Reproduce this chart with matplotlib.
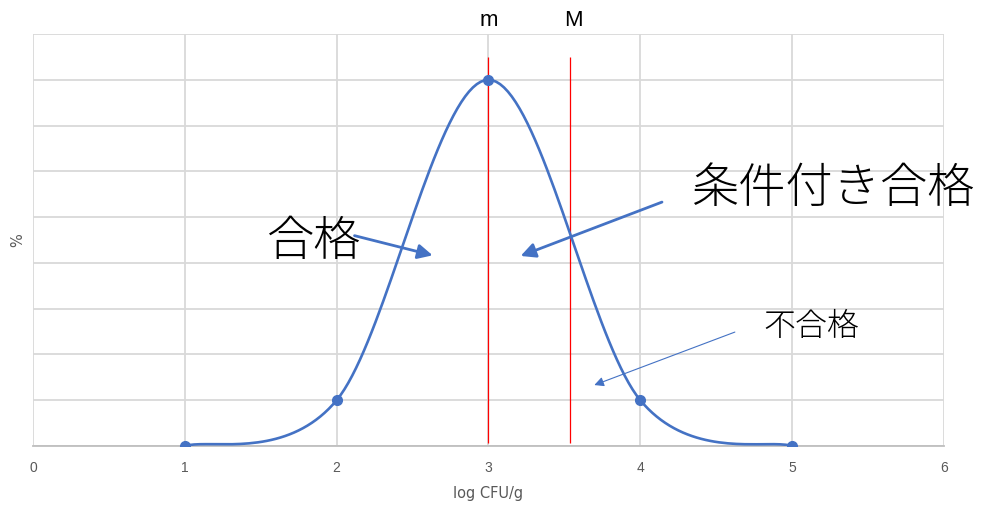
import numpy as np
import matplotlib
matplotlib.use('Agg')
import matplotlib.pyplot as plt

# data
x_vals = [1, 2, 3, 4, 5]
y_vals = [0, 1, 8, 1, 0]
m_x = 3.0
M_x = 3.54
x_ticks = [0, 1, 2, 3, 4, 5, 6]

BLUE = '#4472C4'
GRID = '#d9d9d9'
TXT = '#595959'
JP = ['Noto Sans CJK JP', 'DejaVu Sans']


def excel_smooth(xs, ys, n=40):
    # bezier smoothing like an Excel "smoothed line"
    p = np.column_stack([xs, ys]).astype(float)
    out = []
    for i in range(len(p) - 1):
        p0 = p[i - 1] if i > 0 else p[i]
        p1, p2 = p[i], p[i + 1]
        p3 = p[i + 2] if i + 2 < len(p) else p[i + 1]
        c1 = p1 + (p2 - p0) / 6
        c2 = p2 - (p3 - p1) / 6
        t = np.linspace(0, 1, n)[:, None]
        seg = ((1 - t) ** 3) * p1 + 3 * ((1 - t) ** 2) * t * c1 \
            + 3 * (1 - t) * t ** 2 * c2 + t ** 3 * p2
        out.append(seg if i == 0 else seg[1:])
    out = np.vstack(out)
    return out[:, 0], out[:, 1]


fig = plt.figure(figsize=(9.84, 5.06), dpi=100)
ax = fig.add_axes([0.0335, 0.1166, 0.9258, 0.8142])
ax.set_xlim(0, 6)
ax.set_ylim(0, 9)
ax.set_xticks(x_ticks)
ax.set_yticks(range(0, 10))
ax.set_yticklabels([])
ax.grid(True, color=GRID, lw=1.3)
ax.set_axisbelow(True)
for s in ['top', 'left', 'right']:
    ax.spines[s].set_visible(False)
ax.spines['bottom'].set_color('#bfbfbf')
ax.spines['bottom'].set_linewidth(1.3)
ax.tick_params(length=0, labelsize=10, labelcolor=TXT, pad=10)
for lab in ax.get_xticklabels():
    lab.set_family('Liberation Sans')

sx, sy = excel_smooth(x_vals, y_vals)
ax.plot(sx, sy, color=BLUE, lw=1.9, zorder=3)
ax.plot(x_vals, y_vals, 'o', color=BLUE, ms=7, zorder=4)

ax.vlines([m_x, M_x], 0.07, 8.5, color='red', lw=0.9, zorder=2)

ax.set_xlabel('log CFU/g', color=TXT, fontsize=10.5, labelpad=8)
fig.text(18 / 984, 1 - 240 / 506, '%', color=TXT, fontsize=10.5,
         rotation=90, ha='center', va='center')

ax.text(m_x, 9.32, 'm', ha='center', va='center', fontsize=16,
        family='Liberation Sans', clip_on=False)
ax.text(M_x + 0.02, 9.32, 'M', ha='center', va='center', fontsize=16,
        family='Liberation Sans', clip_on=False)

# labels with arrows
ax.text(1.85, 4.5, '合格', fontsize=34, family=JP, weight='light',
        ha='center', va='center')
ax.annotate('', xy=(2.65, 4.15), xytext=(2.1, 4.61),
            arrowprops=dict(arrowstyle='-|>', color=BLUE, lw=2, mutation_scale=22))
ax.text(5.265, 5.65, '条件付き合格', fontsize=34, family=JP, weight='light',
        ha='center', va='center')
ax.annotate('', xy=(3.195, 4.13), xytext=(4.16, 5.35),
            arrowprops=dict(arrowstyle='-|>', color=BLUE, lw=2, mutation_scale=22))
ax.text(5.125, 2.62, '不合格', fontsize=23, family=JP, weight='light',
        ha='center', va='center')
ax.annotate('', xy=(3.68, 1.31), xytext=(4.64, 2.51),
            arrowprops=dict(arrowstyle='-|>', color=BLUE, lw=0.8, mutation_scale=14))

fig.savefig('out.png', dpi=100)
